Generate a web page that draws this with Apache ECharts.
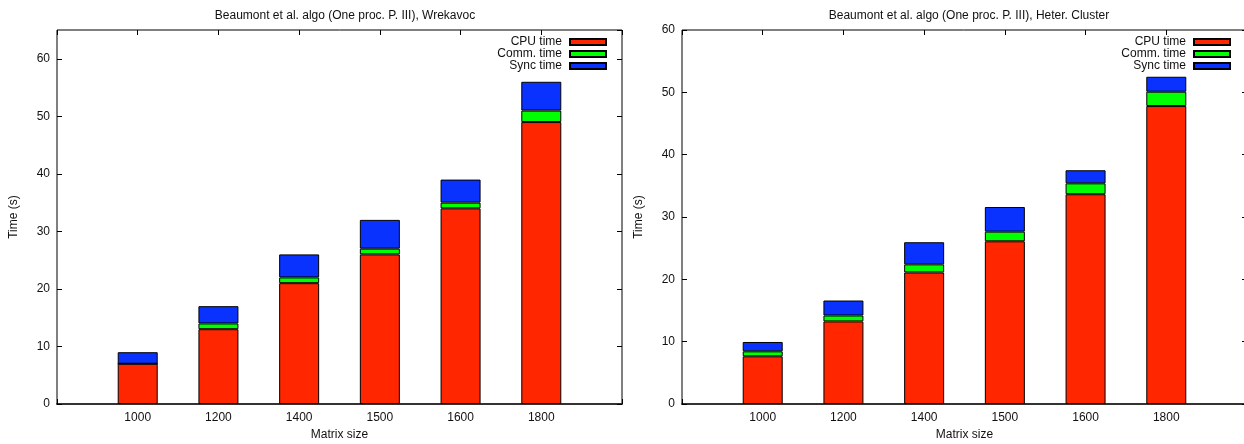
<!DOCTYPE html>
<html>
<head>
<meta charset="utf-8">
<script src="https://cdn.jsdelivr.net/npm/echarts@6/dist/echarts.min.js"></script>
<style>
  html, body { margin: 0; padding: 0; background: #fff; }
  #chart { width: 1244px; height: 444px; }
</style>
</head>
<body>
<div id="chart"></div>
<script>
  // matrix sizes on the x axis
  var categories = ['1000', '1200', '1400', '1500', '1600', '1800']
  var seriesNames = ['CPU time', 'Comm. time', 'Sync time']

  // Wrekavoc (left plot)
  var wrekCpu = [7, 13, 21, 26, 34, 49]
  var wrekComm = [0, 1, 1, 1, 1, 2]
  var wrekSync = [2, 3, 4, 5, 4, 5]

  // Heter. Cluster (right plot)
  var hetCpu = [7.65, 13.25, 21.1, 26.1, 33.65, 47.8]
  var hetComm = [0.8, 0.95, 1.3, 1.55, 1.75, 2.3]
  var hetSync = [1.5, 2.4, 3.55, 3.95, 2.1, 2.4]

  var colors = ['#ff2600', '#00ff00', '#0a32ff']
  var font = 'Liberation Sans, Arial, Helvetica, sans-serif'

  // one empty slot each side, like gnuplot's xrange [-1:6]
  var xData = [''].concat(categories, [''])
  function padded (arr) {
    return ['-'].concat(arr, ['-'])
  }

  function xAxes (gi) {
    return [
      {
        gridIndex: gi, type: 'category', data: xData, boundaryGap: false,
        name: 'Matrix size', nameLocation: 'middle', nameGap: 25,
        nameTextStyle: { color: '#111', fontSize: 12, fontFamily: font },
        axisLine: { show: true, onZero: false, lineStyle: { color: '#333', width: 2 } },
        axisTick: { show: true, inside: true, length: 5, interval: 0, lineStyle: { color: '#000' } },
        axisLabel: { margin: 8, interval: 0, color: '#111', fontSize: 12, fontFamily: font },
        splitLine: { show: false },
      },
      {
        gridIndex: gi, type: 'category', data: xData, boundaryGap: false, position: 'top',
        axisLine: { show: false, onZero: false },
        axisTick: { show: true, inside: true, length: 5, interval: 0, lineStyle: { color: '#000' } },
        axisLabel: { show: false },
        splitLine: { show: false },
      },
    ]
  }

  function yAxes (gi, max) {
    return [
      {
        gridIndex: gi, type: 'value', min: 0, max: max, interval: 10,
        name: 'Time (s)', nameLocation: 'middle', nameGap: 37,
        nameTextStyle: { color: '#111', fontSize: 12, fontFamily: font },
        axisLine: { show: false, onZero: false },
        axisTick: { show: true, inside: true, length: 5, lineStyle: { color: '#000' } },
        axisLabel: { margin: 7, showMaxLabel: max % 10 === 0, color: '#111', fontSize: 12, fontFamily: font },
        splitLine: { show: false },
      },
      {
        gridIndex: gi, type: 'value', min: 0, max: max, interval: 10, position: 'right',
        axisLine: { show: false, onZero: false },
        axisTick: { show: true, inside: true, length: 5, lineStyle: { color: '#000' } },
        axisLabel: { show: false },
        splitLine: { show: false },
      },
    ]
  }

  function bars (stack, xi, yi, lists) {
    return lists.map(function (arr, k) {
      return {
        name: seriesNames[k],
        type: 'bar',
        stack: stack,
        xAxisIndex: xi,
        yAxisIndex: yi,
        barWidth: 40,
        itemStyle: { color: colors[k], borderColor: '#000', borderWidth: 1 },
        data: padded(arr),
      }
    })
  }

  function legend (right) {
    return {
      orient: 'vertical',
      right: right,
      top: 36,
      align: 'right',
      padding: 0,
      itemGap: 0,
      itemWidth: 36,
      itemHeight: 6,
      icon: 'rect',
      selectedMode: false,
      textStyle: { color: '#111', fontSize: 12, lineHeight: 12, fontFamily: font, padding: [0, 3, 0, 0] },
      data: seriesNames,
    }
  }

  var myChart = echarts.init(document.getElementById('chart'), null, { renderer: 'canvas' })
  var option = {
    backgroundColor: '#fff',
    animation: false,
    color: colors,
    title: [
      {
        text: 'Beaumont et al. algo (One proc. P. III), Wrekavoc',
        left: 340, top: 5, textAlign: 'center',
        textStyle: { color: '#111', fontSize: 12, fontWeight: 'normal', fontFamily: font },
      },
      {
        text: 'Beaumont et al. algo (One proc. P. III), Heter. Cluster',
        left: 964, top: 5, textAlign: 'center',
        textStyle: { color: '#111', fontSize: 12, fontWeight: 'normal', fontFamily: font },
      },
    ],
    legend: [legend(637), legend(13)],
    grid: [
      { left: 57, top: 30, width: 565, height: 374, outerBoundsMode: 'none', containLabel: false, show: true, borderColor: '#000', borderWidth: 1, backgroundColor: 'transparent' },
      { left: 682, top: 30, width: 565, height: 374, outerBoundsMode: 'none', containLabel: false, show: true, borderColor: '#000', borderWidth: 1, backgroundColor: 'transparent' },
    ],
    xAxis: xAxes(0).concat(xAxes(1)),
    yAxis: yAxes(0, 65).concat(yAxes(1, 60)),
    series: bars('w', 0, 0, [wrekCpu, wrekComm, wrekSync])
      .concat(bars('h', 2, 2, [hetCpu, hetComm, hetSync])),
  }
  myChart.setOption(option)
</script>
</body>
</html>
